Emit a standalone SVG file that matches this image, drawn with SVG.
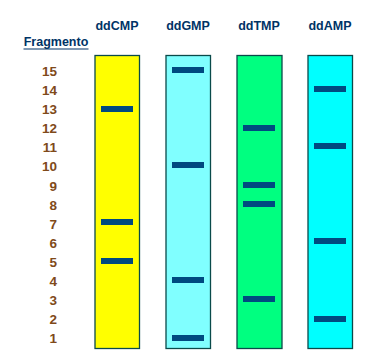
<svg xmlns="http://www.w3.org/2000/svg" width="367" height="364" viewBox="0 0 367 364">
<style>
.hd{font-family:"Liberation Sans",Arial,sans-serif;font-weight:bold;font-size:12.5px;fill:#003366;text-anchor:middle}
.num{font-family:"Liberation Sans",Arial,sans-serif;font-weight:bold;font-size:13.5px;fill:#7f4a1a;text-anchor:end}
.lane{stroke:#0a4a4a;stroke-width:1.3}
.band{fill:#004a80}
</style>
<rect width="367" height="364" fill="#ffffff"/>
<g id="headers">
<text class="hd" x="117" y="30">ddCMP</text>
<text class="hd" x="188" y="30">ddGMP</text>
<text class="hd" x="259" y="30">ddTMP</text>
<text class="hd" x="330" y="30">ddAMP</text>
<text class="hd" x="56" y="46">Fragmento</text>
<line x1="23.5" y1="49" x2="88.5" y2="49" stroke="#003366" stroke-width="1.2"/>
</g>
<g id="labels">
<text class="num" x="57" y="76">15</text>
<text class="num" x="57" y="95">14</text>
<text class="num" x="57" y="114">13</text>
<text class="num" x="57" y="133">12</text>
<text class="num" x="57" y="152">11</text>
<text class="num" x="57" y="171">10</text>
<text class="num" x="57" y="191">9</text>
<text class="num" x="57" y="210">8</text>
<text class="num" x="57" y="229">7</text>
<text class="num" x="57" y="248">6</text>
<text class="num" x="57" y="267">5</text>
<text class="num" x="57" y="286">4</text>
<text class="num" x="57" y="305">3</text>
<text class="num" x="57" y="324">2</text>
<text class="num" x="57" y="343">1</text>
</g>
<g id="lane-ddCMP">
<rect class="lane" x="95" y="55.5" width="44.5" height="293" fill="#ffff00"/>
<rect class="band" x="101" y="106" width="32" height="6"/>
<rect class="band" x="101" y="219" width="32" height="6"/>
<rect class="band" x="101" y="258" width="32" height="6"/>
</g>
<g id="lane-ddGMP">
<rect class="lane" x="166" y="55.5" width="44.5" height="293" fill="#80ffff"/>
<rect class="band" x="172" y="67" width="32" height="6"/>
<rect class="band" x="172" y="162" width="32" height="6"/>
<rect class="band" x="172" y="277" width="32" height="6"/>
<rect class="band" x="172" y="335" width="32" height="6"/>
</g>
<g id="lane-ddTMP">
<rect class="lane" x="237" y="55.5" width="45" height="293" fill="#00ff80"/>
<rect class="band" x="243" y="125" width="32" height="6"/>
<rect class="band" x="243" y="182" width="32" height="6"/>
<rect class="band" x="243" y="201" width="32" height="6"/>
<rect class="band" x="243" y="296" width="32" height="6"/>
</g>
<g id="lane-ddAMP">
<rect class="lane" x="308" y="55.5" width="44.5" height="293" fill="#00ffff"/>
<rect class="band" x="314" y="86" width="32" height="6"/>
<rect class="band" x="314" y="143" width="32" height="6"/>
<rect class="band" x="314" y="238" width="32" height="6"/>
<rect class="band" x="314" y="316" width="32" height="6"/>
</g>
</svg>
